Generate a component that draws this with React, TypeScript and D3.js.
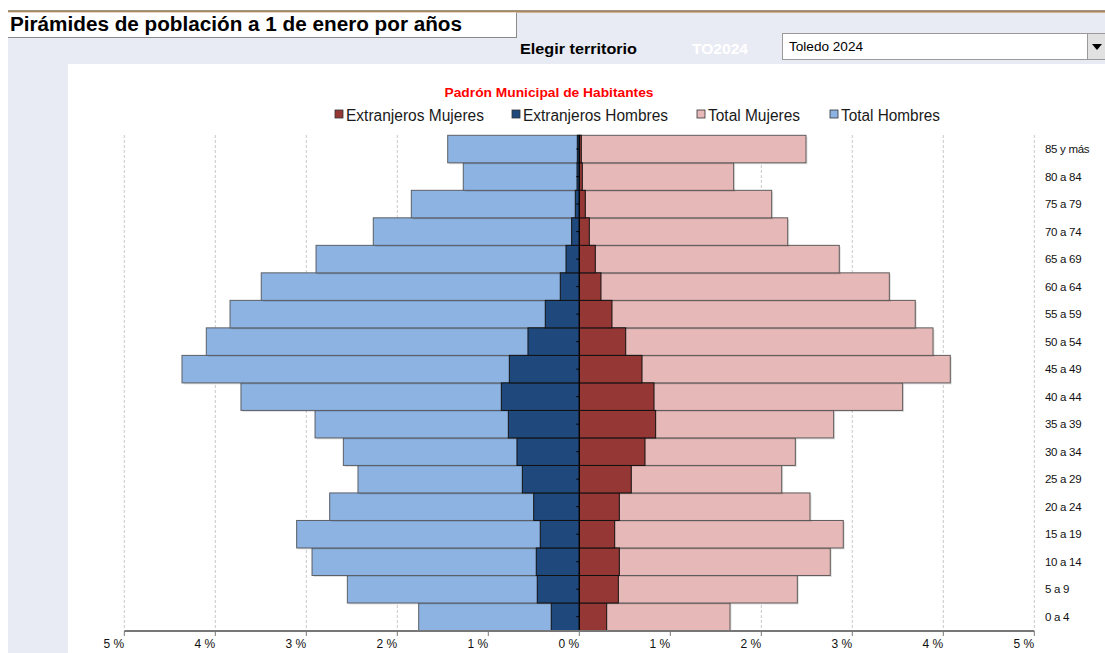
import React from "react";
import * as d3 from "d3";

const ageGroups = ["0 a 4","5 a 9","10 a 14","15 a 19","20 a 24","25 a 29","30 a 34","35 a 39","40 a 44","45 a 49","50 a 54","55 a 59","60 a 64","65 a 69","70 a 74","75 a 79","80 a 84","85 y más"];
const totalHombres = [1.765,2.549,2.937,3.106,2.743,2.432,2.593,2.904,3.718,4.366,4.099,3.838,3.495,2.893,2.264,1.846,1.275,1.446];
const extranjerosHombres = [0.308,0.462,0.473,0.429,0.501,0.626,0.685,0.780,0.857,0.769,0.564,0.374,0.209,0.146,0.084,0.044,0.025,0.022];
const totalMujeres = [1.656,2.396,2.758,2.901,2.535,2.224,2.374,2.795,3.553,4.077,3.887,3.692,3.407,2.857,2.290,2.114,1.696,2.491];
const extranjerosMujeres = [0.301,0.429,0.440,0.389,0.440,0.571,0.722,0.839,0.821,0.689,0.510,0.359,0.238,0.176,0.110,0.066,0.033,0.022];
const xTicks = [-5,-4,-3,-2,-1,0,1,2,3,4,5];

const legendItems = [
  { label: "Extranjeros Mujeres", color: "#953735" },
  { label: "Extranjeros Hombres", color: "#1f497d" },
  { label: "Total Mujeres", color: "#e6b9b8" },
  { label: "Total Hombres", color: "#8db3e2" },
];

const W = 1105, H = 653;
const FONT = "'Liberation Sans', Arial, sans-serif";

export default function App() {
  const x = d3.scaleLinear().domain([-5, 5]).range([124.3, 1034.3]);
  const y = d3.scaleBand<string>().domain([...ageGroups].reverse()).range([135.3, 630.5]).padding(0);
  const bw = y.bandwidth();

  const bar = (key: string, v: number, side: number, cat: string, fill: string, stroke: string, shadow: boolean) => {
    const x0 = side < 0 ? x(-v) : x(0);
    const w = Math.abs(x(v) - x(0));
    const yy = y(cat)!;
    return (
      <g key={key}>
        {shadow && <rect x={x0 + 1.5} y={yy + 1.5} width={w} height={bw} fill="#000" opacity={0.12} />}
        <rect x={x0} y={yy} width={w} height={bw} fill={fill} stroke={stroke} strokeWidth={1} />
      </g>
    );
  };

  const legendX = [335, 512, 697, 830];
  const legendW = [138, 145, 92, 99];

  return (
    <div style={{ position: "fixed", left: 0, top: 0, width: W, height: H, background: "#fff" }}>
      <svg width={W} height={H} style={{ display: "block" }} fontFamily={FONT}>
        <rect x={0} y={0} width={W} height={H} fill="#fff" />
        {/* page background */}
        <rect x={8} y={12} width={W - 8} height={H - 12} fill="#e9ebf4" />
        <line x1={8} x2={W} y1={11} y2={11} stroke="#3a2a10" strokeWidth={1} />
        <line x1={8} x2={W} y1={12} y2={12} stroke="#b8782e" strokeWidth={1} />
        {/* title box */}
        <rect x={8} y={12.5} width={509} height={25} fill="#fff" />
        <line x1={516.5} x2={516.5} y1={12.5} y2={37.5} stroke="#8a8a8a" />
        <line x1={8} x2={517} y1={37.5} y2={37.5} stroke="#8a8a8a" />
        <text x={10} y={31} fontSize={20} fontWeight="bold" fill="#000" textLength={452} lengthAdjust="spacingAndGlyphs">Pirámides de población a 1 de enero por años</text>
        {/* selector */}
        <text x={520} y={54} fontSize={15} fontWeight="bold" fill="#000" textLength={117} lengthAdjust="spacingAndGlyphs">Elegir territorio</text>
        <text x={692} y={54} fontSize={15} fontWeight="bold" fill="#fff" textLength={56} lengthAdjust="spacingAndGlyphs">TO2024</text>
        <rect x={782.5} y={33.5} width={322} height={26} fill="#fff" stroke="#9a9a9a" />
        <rect x={1087.5} y={33.5} width={18} height={26} fill="#e1e1e1" stroke="#9a9a9a" />
        <path d="M1092,44 L1102,44 L1097,50 Z" fill="#000" />
        <text x={789} y={51} fontSize={13} fill="#000" textLength={74} lengthAdjust="spacingAndGlyphs">Toledo 2024</text>
        {/* chart area */}
        <rect x={68} y={64} width={W - 68} height={H - 64} fill="#fff" />
        <text x={549} y={97} fontSize={13.5} fontWeight="bold" fill="#ff0000" textAnchor="middle" textLength={209} lengthAdjust="spacingAndGlyphs">Padrón Municipal de Habitantes</text>
        {legendItems.map((it, i) => (
          <g key={it.label}>
            <rect x={legendX[i]} y={110} width={8} height={8} fill={it.color} stroke="#333" strokeWidth={0.8} />
            <text x={legendX[i] + 11} y={120.5} fontSize={16} fill="#1a1a1a" textLength={legendW[i]} lengthAdjust="spacingAndGlyphs">{it.label}</text>
          </g>
        ))}
        {/* gridlines */}
        {xTicks.filter(t => t !== 0).map(t => (
          <line key={"g" + t} x1={x(t)} x2={x(t)} y1={135} y2={630} stroke="#c8c8c8" strokeDasharray="3,2" />
        ))}
        {/* total bars */}
        {ageGroups.map((c, i) => bar("th" + c, totalHombres[i], -1, c, "#8db3e2", "#5a5f66", true))}
        {ageGroups.map((c, i) => bar("tm" + c, totalMujeres[i], 1, c, "#e6b9b8", "#5f5a5a", true))}
        {/* extranjeros */}
        {ageGroups.map((c, i) => bar("eh" + c, extranjerosHombres[i], -1, c, "#1f497d", "#111", false))}
        {ageGroups.map((c, i) => bar("em" + c, extranjerosMujeres[i], 1, c, "#953735", "#111", false))}
        {/* center axis */}
        <line x1={x(0)} x2={x(0)} y1={135} y2={631} stroke="#000" strokeWidth={1} />
        {ageGroups.map(c => (
          <line key={"ct" + c} x1={x(0) - 3} x2={x(0)} y1={y(c)! + bw / 2} y2={y(c)! + bw / 2} stroke="#000" />
        ))}
        {/* bottom axis */}
        <line x1={x(-5)} x2={x(5)} y1={631} y2={631} stroke="#777" strokeWidth={2} />
        {xTicks.map(t => (
          <g key={"t" + t}>
            <line x1={x(t)} x2={x(t)} y1={631} y2={636} stroke="#777" />
            <text x={x(t)} y={648} fontSize={12} textAnchor="end" fill="#111">{Math.abs(t)} %</text>
          </g>
        ))}
        {/* category labels */}
        {ageGroups.map(c => (
          <text key={"l" + c} x={1045} y={y(c)! + bw / 2 + 4} fontSize={11.5} fill="#111" letterSpacing={-0.3}>{c}</text>
        ))}
      </svg>
    </div>
  );
}
